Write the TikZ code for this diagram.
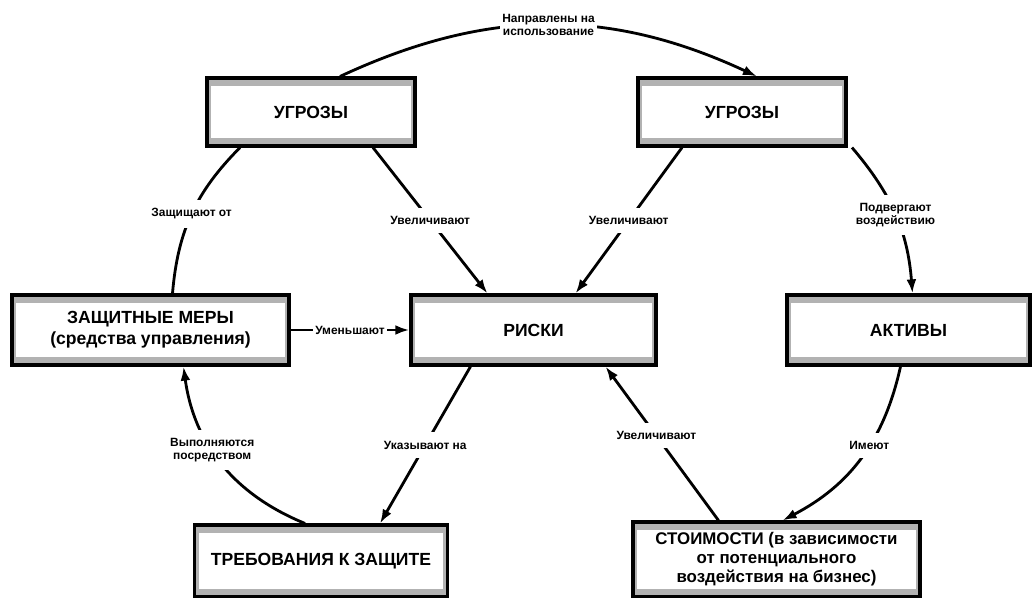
\documentclass[tikz,border=0pt]{standalone}
\usepackage{fontspec}
\setmainfont{Liberation Sans}
\usetikzlibrary{arrows.meta,calc}
\tikzset{
  box/.style={draw, line width=2.2pt, fill=gray!60, inner sep=0pt, align=center,
    font=\fontsize{12.5}{15}\selectfont\bfseries,
    path picture={\fill[white] ([shift={(3.2pt,-5.5pt)}]path picture bounding box.north west)
      rectangle ([shift={(-3.2pt,5.5pt)}]path picture bounding box.south east);}},
  lbl/.style={fill=white, inner xsep=2pt, inner ysep=6pt, align=center,
    font=\fontsize{8.5}{9}\selectfont\bfseries},
  link/.style={line width=2pt},
  arr/.style={link, -{Latex[length=10pt,width=7pt]}}
}
\begin{document}
\begin{tikzpicture}[x=0.025cm, y=0.025cm]
  \useasboundingbox (0,0) rectangle (1035,-598);
  % Nodes
  \node[box, minimum width=5.2cm, minimum height=1.7cm] (thr1) at (311,-112) {УГРОЗЫ};
  \node[box, minimum width=5.2cm, minimum height=1.7cm] (thr2) at (742,-112) {УГРОЗЫ};
  \node[box, minimum width=6.925cm, minimum height=1.75cm] (sg) at (150.5,-330) {ЗАЩИТНЫЕ МЕРЫ\\(средства управления)};
  \node[box, minimum width=6.125cm, minimum height=1.75cm] (risk) at (533.5,-330) {РИСКИ};
  \node[box, minimum width=6.075cm, minimum height=1.75cm] (asset) at (908.5,-330) {АКТИВЫ};
  \node[box, minimum width=6.325cm, minimum height=1.8cm] (req) at (321,-561) {ТРЕБОВАНИЯ К ЗАЩИТЕ};
  \node[box, minimum width=7.175cm, minimum height=1.875cm, font=\fontsize{12}{13.5}\selectfont\bfseries] (val) at (776.5,-559.5)
    {СТОИМОСТИ (в зависимости\\от потенциального\\воздействия на бизнес)};
  % Links
  \draw[arr] ($(thr1.north)+(29,0)$) to[bend left=25] node[lbl]{Направлены на\\использование} ($(thr2.north)+(15,0)$);
  \draw[link] ($(thr1.south)+(-71,0)$) to[bend right=20] node[lbl]{Защищают от} ($(sg.north)+(22,0)$);
  \draw[arr] ($(thr1.south)+(62,0)$) -- node[lbl]{Увеличивают} ($(risk.north)+(-46,0)$);
  \draw[arr] ($(thr2.south)+(-60,0)$) -- node[lbl]{Увеличивают} ($(risk.north)+(42,0)$);
  \draw[arr] ($(thr2.south)+(110,0)$) to[bend left=18] node[lbl]{Подвергают\\воздействию} ($(asset.north)+(4,0)$);
  \draw[arr] (sg) -- node[lbl, inner ysep=2pt]{Уменьшают} (risk);
  \draw[arr] ($(risk.south)+(-63,0)$) -- node[lbl]{Указывают на} ($(req.north)+(59,0)$);
  \draw[arr] ($(req.north)+(-16,0)$) to[bend left=30] node[lbl, pos=0.58]{Выполняются\\посредством} ($(sg.south)+(33,0)$);
  \draw[arr] ($(val.north)+(-58,0)$) -- node[lbl, pos=0.55]{Увеличивают} ($(risk.south)+(72,0)$);
  \draw[arr] ($(asset.south)+(-8,0)$) to[bend left=25] node[lbl, pos=0.42]{Имеют} ($(val.north)+(6,0)$);
\end{tikzpicture}
\end{document}
